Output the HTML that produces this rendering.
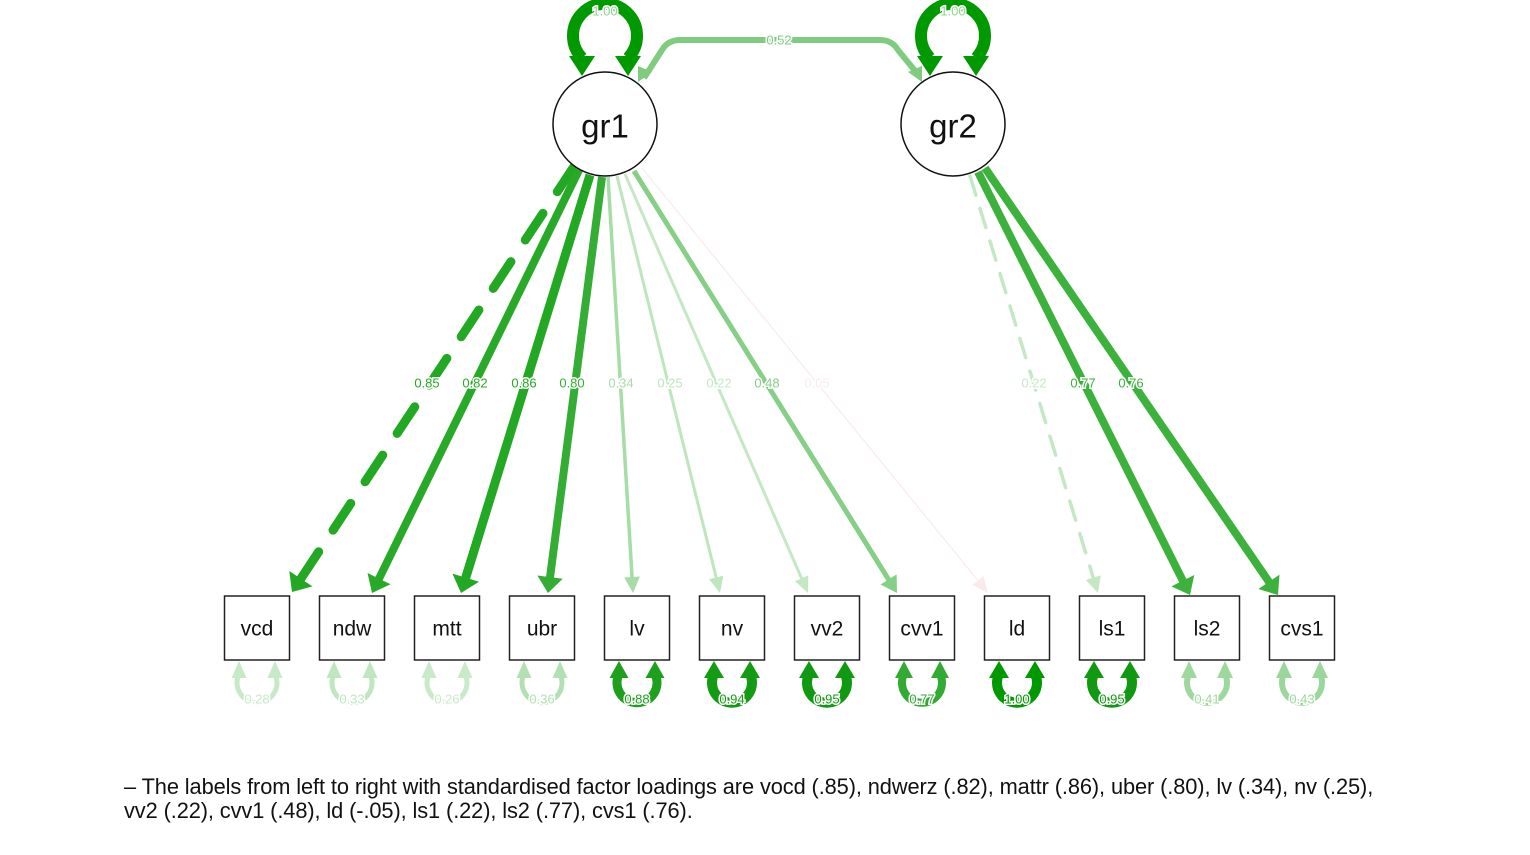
<!DOCTYPE html>
<html><head><meta charset="utf-8"><style>
body{margin:0;background:#fff;width:1530px;height:855px;overflow:hidden;font-family:"Liberation Sans",sans-serif}
svg{position:absolute;left:0;top:0}
.cap{position:absolute;left:124px;top:775px;font-size:21.8px;line-height:24px;color:#111;white-space:nowrap;letter-spacing:-0.1px}
</style></head><body>
<svg id="s" width="1530" height="855" xmlns="http://www.w3.org/2000/svg" font-family="Liberation Sans, sans-serif"></svg>
<div class="cap">– The labels from left to right with standardised factor loadings are vocd (.85), ndwerz (.82), mattr (.86), uber (.80), lv (.34), nv (.25),<br>vv2 (.22), cvv1 (.48), ld (-.05), ls1 (.22), ls2 (.77), cvs1 (.76).</div>
<script>
var s=document.getElementById('s'),h='';
function arrow(x1,y1,x2,y2,w,col,dash,al){
 var dx=x2-x1,dy=y2-y1,L=Math.hypot(dx,dy),ux=dx/L,uy=dy/L,px=-uy,py=ux;
 var ah=al||16,aw=Math.max(7,w*1.1+4);
 var bx=x2-ux*ah,by=y2-uy*ah;
 h+='<line x1="'+x1+'" y1="'+y1+'" x2="'+(bx+ux*2)+'" y2="'+(by+uy*2)+'" stroke="'+col+'" stroke-width="'+w+'" stroke-linecap="'+(dash?'round':'butt')+'"'+(dash?' stroke-dasharray="'+dash+'"':'')+'/>';
 h+='<polygon points="'+x2+','+y2+' '+(bx+px*aw)+','+(by+py*aw)+' '+(bx-px*aw)+','+(by-py*aw)+'" fill="'+col+'"/>';
}
function lab(x,y,t,col,fs){h+='<text x="'+x+'" y="'+y+'" font-size="'+(fs||13)+'" fill="'+col+'" text-anchor="middle" dominant-baseline="central" stroke="#fff" stroke-width="3" paint-order="stroke">'+t+'</text>';}
var L=[[575,165,292,592,9,'#22a822','32 26',.85,427],[580,168,372,593,8,'#28aa28',0,.82,475],[590,175,461,593,9,'#22a822',0,.86,524],[602,177,548,593,8,'#33ad33',0,.80,572],[608,177,633,593,3.5,'#a6dca6',0,.34,621],[617,176,720,593,3,'#bde6bd',0,.25,670],[625,174,808,593,3,'#c4e8c4',0,.22,719],[634,171,897,593,5,'#86cf86',0,.48,767],[642,168,988,593,1.2,'#fbeaea',0,.05,817]];
L.push([970,176,1098,593,3.5,'#c4e8c4','20 14',.22,1034],[978,172,1190,595,8,'#3cb23c',0,.77,1083],[985,168,1278,595,8,'#3cb23c',0,.76,1131]);
var labs=[];
L.forEach(function(l){arrow(l[0],l[1],l[2],l[3],l[4],l[5],l[6]);labs.push([l[8],383,(l[7]==.05?'0.05':l[7].toFixed(2)),l[5]]);});
h+='<path d="M644,78 L662,50 Q668,40 680,40 L880,40 Q892,40 898,50 L916,72" fill="none" stroke="#7fcc7f" stroke-width="6"/>';
h+='<polygon points="638,82 638,66 652,72" fill="#7fcc7f"/><polygon points="922,82 908,72 922,66" fill="#7fcc7f"/>';
[605,953].forEach(function(x){
 h+='<path d="M'+(x-23)+',58 A32,32 0 1 1 '+(x+23)+',58" fill="none" stroke="#009900" stroke-width="12"/>';
 h+='<polygon points="'+(x-36)+',56 '+(x-10)+',56 '+(x-23)+',76" fill="#009900"/><polygon points="'+(x+36)+',56 '+(x+10)+',56 '+(x+23)+',76" fill="#009900"/>';
 lab(x,11,'1.00','#8fd68f',13);
});
lab(779,40,'0.52','#7fcc7f',13);
h+='<circle cx="605" cy="124" r="52" fill="#fff" stroke="#111" stroke-width="1.5"/><text x="605" y="126" font-size="33" text-anchor="middle" dominant-baseline="central" fill="#111">gr1</text>';
h+='<circle cx="953" cy="124" r="52" fill="#fff" stroke="#111" stroke-width="1.5"/><text x="953" y="126" font-size="33" text-anchor="middle" dominant-baseline="central" fill="#111">gr2</text>';
var N=['vcd','ndw','mtt','ubr','lv','nv','vv2','cvv1','ld','ls1','ls2','cvs1'];
var R=[['0.28','#c6e9c6',5],['0.33','#bfe6bf',5],['0.26','#c8eac8',5],['0.36','#b3e0b3',5],['0.88','#1ea01e',9],['0.94','#139b13',10],['0.95','#119a11',10],['0.77','#33ab33',8],['1.00','#009900',10],['0.95','#119a11',10],['0.41','#9fd89f',6],['0.43','#9bd79b',6]];
N.forEach(function(n,i){
 var cx=257+95*i;
 h+='<rect x="'+(cx-32.5)+'" y="596" width="65" height="64" fill="#fff" stroke="#222" stroke-width="1.5"/>';
 h+='<text x="'+cx+'" y="629" font-size="21" text-anchor="middle" dominant-baseline="central" fill="#111">'+n+'</text>';
 var r=R[i],w=r[2];
 h+='<path d="M'+(cx-18)+',674 A20,20 0 1 0 '+(cx+18)+',674" fill="none" stroke="'+r[1]+'" stroke-width="'+w+'"/>';
 var aw=w/2+5;
 h+='<polygon points="'+(cx-18-aw)+',678 '+(cx-18+aw)+',678 '+(cx-18)+',661" fill="'+r[1]+'"/><polygon points="'+(cx+18-aw)+',678 '+(cx+18+aw)+',678 '+(cx+18)+',661" fill="'+r[1]+'"/>';
 labs.push([cx,699,r[0],r[1]]);
});
labs.forEach(function(l){lab(l[0],l[1],l[2],l[3],13);});
s.innerHTML=h;
</script>
</body></html>
